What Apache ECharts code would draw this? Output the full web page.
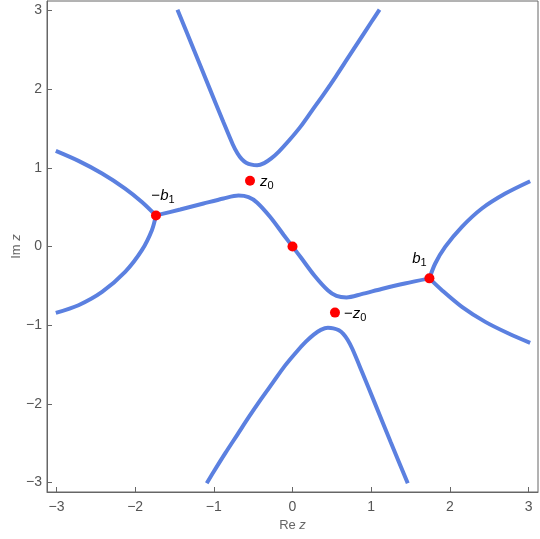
<!DOCTYPE html>
<html>
<head>
<meta charset="utf-8">
<script src="https://cdn.jsdelivr.net/npm/echarts@6/dist/echarts.min.js"></script>
<style>
html,body{margin:0;padding:0;background:#fff;}
#chart{width:540px;height:539px;}
</style>
</head>
<body>
<div id="chart"></div>
<script>
// ---- data ----
const xTicks = [-3, -2, -1, 0, 1, 2, 3];
const yTicks = [-3, -2, -1, 0, 1, 2, 3];

const topCurve = [[-1.462,3.01],[-1.25,2.49],[-1.05,2.0],[-0.88,1.585],[-0.76,1.30],[-0.70,1.185],[-0.645,1.11],[-0.59,1.065],[-0.52,1.04],[-0.45,1.033],[-0.36,1.06],[-0.27,1.12],[-0.17,1.21],[-0.05,1.34],[0.10,1.52],[0.25,1.73],[0.40,1.94],[0.55,2.16],[0.70,2.39],[0.85,2.62],[1.0,2.85],[1.106,3.01]];
const bottomCurve = [[-1.09,-3.01],[-1.0,-2.86],[-0.85,-2.62],[-0.70,-2.39],[-0.55,-2.16],[-0.40,-1.94],[-0.25,-1.73],[-0.10,-1.52],[0.05,-1.34],[0.17,-1.21],[0.27,-1.12],[0.36,-1.06],[0.45,-1.033],[0.52,-1.04],[0.59,-1.065],[0.645,-1.11],[0.70,-1.185],[0.76,-1.30],[0.88,-1.585],[1.05,-2.0],[1.25,-2.49],[1.465,-3.01]];
const leftUpper = [[-3.008,1.215],[-2.72,1.088],[-2.42,0.928],[-2.127,0.737],[-1.914,0.567],[-1.735,0.395]];
const leftLower = [[-1.735,0.395],[-1.787,0.207],[-1.914,-0.047],[-2.127,-0.323],[-2.42,-0.577],[-2.72,-0.746],[-3.008,-0.844]];
const rightUpper = [[1.74,-0.405],[1.814,-0.216],[1.94,-0.005],[2.153,0.25],[2.407,0.483],[2.704,0.673],[3.02,0.83]];
const rightLower = [[1.74,-0.405],[1.899,-0.555],[2.153,-0.767],[2.45,-0.958],[2.746,-1.106],[3.02,-1.225]];
const middleCurve = [[-1.735,0.395],[-1.427,0.47],[-1.131,0.546],[-0.877,0.61],[-0.686,0.647],[-0.559,0.628],[-0.452,0.56],[-0.283,0.375],[-0.114,0.15],[0,0],[0.114,-0.15],[0.283,-0.375],[0.452,-0.56],[0.559,-0.628],[0.686,-0.647],[0.877,-0.605],[1.131,-0.54],[1.427,-0.47],[1.74,-0.405]];

const pointNames = ['-b1', 'origin', 'b1', 'z0', '-z0'];
const pointValues = [[-1.735,0.395],[0,0],[1.74,-0.405],[-0.54,0.835],[0.54,-0.84]];

// ---- presentation ----
const labelCfg = {
  '-b1': {text: '{n|−}{i|b}{s|1}', position: 'top', offset: [7, 0]},
  'b1':  {text: '{i|b}{s|1}', position: 'top', offset: [-10, 0]},
  'z0':  {text: '{i|z}{s|0}', position: 'right', offset: [0, 1]},
  '-z0': {text: '{n|−}{i|z}{s|0}', position: 'right', offset: [-1, 1]},
  'origin': null
};
const FONT = '"Liberation Sans", Arial, sans-serif';
const rich = {
  n: {fontFamily: FONT, fontSize: 15, color: '#000', lineHeight: 20, verticalAlign: 'middle'},
  i: {fontFamily: FONT, fontSize: 15, fontStyle: 'italic', color: '#000', lineHeight: 20, verticalAlign: 'middle'},
  s: {fontFamily: FONT, fontSize: 11, color: '#000', lineHeight: 12, verticalAlign: 'bottom'}
};
const axisRich = {
  r: {fontFamily: FONT, fontSize: 13, color: '#666'},
  i: {fontFamily: FONT, fontSize: 13, color: '#666', fontStyle: 'italic'}
};
const LINE_COLOR = '#5b80e0';
function curve(data) {
  return {type: 'line', data: data, smooth: 0.3, showSymbol: false, symbol: 'none',
    lineStyle: {color: LINE_COLOR, width: 4}, z: 2, animation: false};
}
const fmt = v => String(v).replace('-', '−');

const chart = echarts.init(document.getElementById('chart'), null, {renderer: 'canvas'});
chart.setOption({
  animation: false,
  backgroundColor: '#fff',
  grid: {left: 47, right: 2, top: 1, bottom: 47, containLabel: false, outerBoundsMode: 'none',
    show: true, borderColor: '#666', borderWidth: 1, backgroundColor: 'transparent'},
  xAxis: {
    type: 'value', min: -3.12, max: 3.12,
    axisLine: {show: true, onZero: false, lineStyle: {color: '#666', width: 1}},
    axisTick: {show: true, inside: true, length: 5, customValues: xTicks, lineStyle: {color: '#666'}},
    axisLabel: {customValues: xTicks, formatter: fmt, color: '#555', fontSize: 14, fontFamily: FONT, margin: 8},
    splitLine: {show: false},
    name: '{r|Re }{i|z}', nameLocation: 'middle', nameGap: 27, nameMoveOverlap: false,
    nameTextStyle: {rich: axisRich, color: '#666'}
  },
  yAxis: {
    type: 'value', min: -3.12, max: 3.12,
    axisLine: {show: true, onZero: false, lineStyle: {color: '#666', width: 1}},
    axisTick: {show: true, inside: true, length: 5, customValues: yTicks, lineStyle: {color: '#666'}},
    axisLabel: {customValues: yTicks, formatter: fmt, color: '#555', fontSize: 14, fontFamily: FONT, margin: 5},
    splitLine: {show: false},
    name: '{r|Im }{i|z}', nameLocation: 'middle', nameGap: 24, nameRotate: 90, nameMoveOverlap: false,
    nameTextStyle: {rich: axisRich, color: '#666'}
  },
  series: [
    curve(topCurve), curve(bottomCurve), curve(leftUpper), curve(leftLower),
    curve(rightUpper), curve(rightLower), curve(middleCurve),
    {
      type: 'scatter', symbolSize: 10, z: 5, animation: false,
      itemStyle: {color: '#ff0000', opacity: 1},
      emphasis: {disabled: true},
      data: pointValues.map((v, k) => {
        const c = labelCfg[pointNames[k]];
        return {
          name: pointNames[k], value: v,
          label: c ? {show: true, formatter: c.text, position: c.position, offset: c.offset, distance: 5, rich: rich} : {show: false}
        };
      })
    }
  ]
});
</script>
</body>
</html>
